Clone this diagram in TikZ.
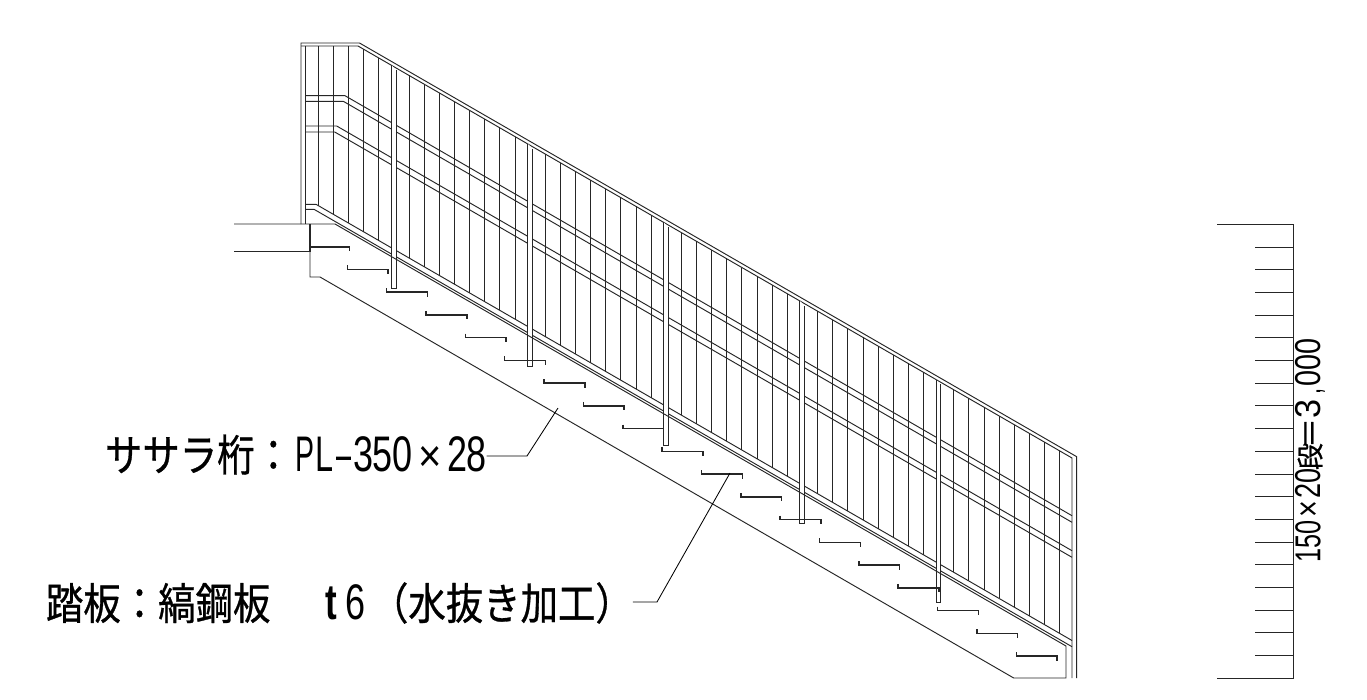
\documentclass[tikz,border=0pt]{standalone}
\usepackage{graphicx}
\usepackage{fontspec}
\setmainfont{Noto Sans CJK JP}[FakeBold=0.8]
\newfontfamily\latf{Liberation Sans}
% big labels: half-width cells for Latin, condensed full-width for Japanese
\newcommand{\cellbig}[3][19.5pt]{\makebox[#1]{\scalebox{#2}[1]{\fontsize{50}{50}\latf #3}}}
\newcommand{\jpbig}[1]{\scalebox{0.86}[1]{\fontsize{43.5}{50}\selectfont #1}}
% small rotated label
\newcommand{\cellsm}[3]{\makebox[#1]{\scalebox{#2}[1]{\fontsize{36}{36}\latf #3}}}
\newcommand{\jpsm}[3]{\makebox[#1]{\fontsize{#2}{36}\selectfont #3}}
\tikzset{
  thinline/.style={line width=0.95pt,black!85,line join=miter},
  tread/.style={line width=1.5pt,black!85,line join=miter},
  post/.style={thinline,fill=white},
  leader/.style={line width=0.85pt,black},
  label/.style={inner sep=0pt,outer sep=0pt}
}
\begin{document}
\begin{tikzpicture}[x=1pt,y=-1pt,
  declare function={
    topd(\x)=46+0.577*(\x-358);
    botd(\x)=204.3+0.577*(\x-316);
    strd(\x)=224+0.577*(\x-335);
  }]
\useasboundingbox[fill=white] (0,0) rectangle (1367,699);
% balusters
\foreach \k in {0,...,4,6,7,...,13,15,16,...,22,24,25,...,31,33,34,...,40,42,43,...,49}{
  \pgfmathsetmacro\xx{318.3+15.13*\k}
  \pgfmathsetmacro\yt{\xx<358?46:topd(\xx)}
  \pgfmathsetmacro\yb{botd(\xx)}
  \draw[thinline] (\xx,\yt) -- (\xx,\yb);
}
% top rail
\draw[thinline] (301,224) -- (301,43) -- (359.5,43) -- (1076.7,456.7) -- (1076.7,678);
\draw[thinline] (301,46) -- (358,46) -- (1072,458) -- (1072,678);
\draw[thinline] (305.7,46) -- (305.7,224);
% mid rails
\draw[thinline] (305.7,95.7) -- (345,95.7) -- (1072,515.7);
\draw[thinline] (305.7,101.3) -- (343.3,101.3) -- (1072,522.3);
\draw[thinline] (305.7,126) -- (336.7,126) -- (1072,550.7);
\draw[thinline] (305.7,132) -- (334.7,132) -- (1072,557.3);
% bottom rail
\draw[thinline] (305.7,204.3) -- (316,204.3) -- (1072,640.5);
\draw[thinline] (305.7,209.3) -- (314,209.3) -- (1072,646.7);
% posts
\foreach \px in {394,530,666,802,938.3}{
  \pgfmathsetmacro\xa{\px-2.3}
  \pgfmathsetmacro\xb{\px+2.3}
  \pgfmathsetmacro\ya{topd(\xa)}
  \pgfmathsetmacro\yc{topd(\xb)+2}
  \pgfmathsetmacro\yb{strd(\px)+30}
  \filldraw[post] (\xa,\ya) -- (\xa,\yb) -- (\xb,\yb) -- (\xb,\yc);
}
% landing and stringer
\draw[thinline] (234,224) -- (335,224) -- (1066,646) -- (1066,678) -- (1013.7,678) -- (320,277) -- (310,277) -- (310,224);
\draw[thinline] (234,251.5) -- (310,251.5);
\draw[line width=1.2pt,black!85] (310,224) -- (310,251.5);
% treads
\draw[tread] (310,247) -- (349.3,247) -- (349.3,251);
\foreach \i in {1,...,18}{
  \pgfmathsetmacro\xl{347.3+39.35*(\i-1)}
  \pgfmathsetmacro\xr{\xl+40.8}
  \pgfmathsetmacro\yy{246.6+22.75*\i}
  \pgfmathsetmacro\yu{\yy-4}
  \pgfmathsetmacro\yd{\yy+4.5}
  \draw[tread] (\xl,\yu) -- (\xl,\yy) -- (\xr,\yy) -- (\xr,\yd);
}
% scale
\draw[line width=1.1pt,black!85] (1217,224.3) -- (1293.3,224.3) -- (1293.3,678.3) -- (1217,678.3);
\foreach \i in {1,...,19}{
  \pgfmathsetmacro\yy{224.3+22.7*\i}
  \draw[thinline] (1255,\yy) -- (1293.3,\yy);
}
% labels
\node[label,anchor=west] (sasara) at (105,454.5) {\jpbig{ササラ桁：}\hspace{3pt}\cellbig{0.57}{P}\cellbig{0.65}{L}\cellbig{0.54}{–}\cellbig{0.72}{3}\cellbig{0.72}{5}\cellbig{0.72}{0}\makebox[35.5pt]{\scalebox{0.8}[0.9]{\fontsize{50}{50}\latf ×}}\cellbig{0.72}{2}\cellbig{0.72}{8}};
\node[label,anchor=west] (fumiita) at (46,603) {\jpbig{踏板：縞鋼板}\hspace{51pt}\cellbig[20pt]{0.7}{\textbf{t}}\hspace{4pt}\cellbig[20pt]{0.72}{6}\hspace{5.5pt}\jpbig{（水抜き加工）}};
\node[label,rotate=90] (dim) at (1310,450) {\cellsm{14pt}{0.7}{1}\cellsm{14pt}{0.7}{5}\cellsm{14pt}{0.7}{0}\cellsm{21pt}{0.8}{×}\cellsm{15.5pt}{0.75}{2}\cellsm{15.5pt}{0.75}{0}\jpsm{23pt}{27}{段}\jpsm{24pt}{30}{＝}\cellsm{25pt}{0.95}{3}\cellsm{10pt}{0.6}{,}\cellsm{16pt}{0.8}{0}\cellsm{16pt}{0.8}{0}\cellsm{16pt}{0.8}{0}};
% leaders
\coordinate (sasaraBend) at (527,456);
\coordinate (sasaraEnd) at (558,408);
\coordinate (fumiBend) at (657,602);
\coordinate (fumiEnd) at (730,473);
\draw[leader] (sasara.east |- sasaraBend) -- (sasaraBend) -- (sasaraEnd);
\draw[leader] (fumiita.east |- fumiBend) -- (fumiBend) -- (fumiEnd);
\end{tikzpicture}
\end{document}
